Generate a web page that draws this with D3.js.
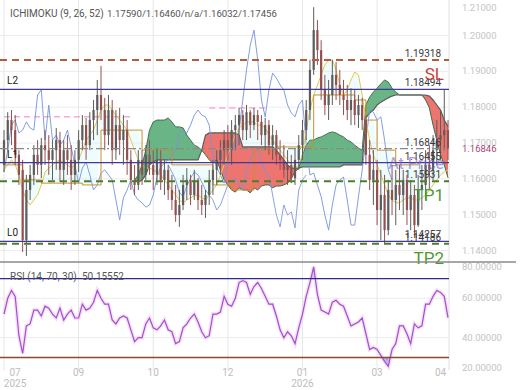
<!DOCTYPE html>
<html>
<head>
<meta charset="utf-8">
<script src="https://cdn.jsdelivr.net/npm/d3@7"></script>
<style>
  body { margin: 0; background: #fff; }
  svg { display: block; font-family: Roboto, "DejaVu Sans", sans-serif; }
</style>
</head>
<body>
<div id="chart"></div>
<script>
// ---- data (one entry per bar) ----
const opens = [
  1.1639,1.1708,1.1764,1.1736,1.1667,1.1625,1.1429,1.1569,1.1611,1.1667,
  1.1639,1.1694,1.1680,1.1653,1.1680,1.1708,1.1625,1.1680,1.1653,1.1611,
  1.1653,1.1708,1.1750,1.1694,1.1764,1.1792,1.1834,1.1792,1.1722,1.1792,
  1.1680,1.1750,1.1708,1.1736,1.1653,1.1597,1.1583,1.1653,1.1611,1.1667,
  1.1639,1.1611,1.1653,1.1597,1.1625,1.1569,1.1541,1.1499,1.1527,1.1583,
  1.1597,1.1555,1.1597,1.1541,1.1527,1.1555,1.1597,1.1625,1.1653,1.1680,
  1.1708,1.1680,1.1736,1.1750,1.1778,1.1736,1.1786,1.1750,1.1778,1.1759,
  1.1722,1.1750,1.1694,1.1722,1.1667,1.1653,1.1625,1.1639,1.1602,1.1653,
  1.1694,1.1736,1.1792,1.1904,1.2015,1.1959,1.1848,1.1806,1.1834,1.1890,
  1.1862,1.1834,1.1820,1.1792,1.1820,1.1778,1.1806,1.1764,1.1667,1.1597,
  1.1625,1.1513,1.1555,1.1457,1.1569,1.1541,1.1583,1.1555,1.1597,1.1513,
  1.1555,1.1471,1.1569,1.1583,1.1639,1.1625,1.1680,1.1708,1.1722,1.1736
];
const highs = [
  1.1736,1.1786,1.1792,1.1778,1.1680,1.1653,1.1611,1.1639,1.1694,1.1708,
  1.1714,1.1736,1.1722,1.1708,1.1742,1.1731,1.1708,1.1722,1.1694,1.1680,
  1.1736,1.1778,1.1770,1.1786,1.1820,1.1876,1.1915,1.1826,1.1834,1.1820,
  1.1792,1.1798,1.1778,1.1764,1.1680,1.1639,1.1680,1.1680,1.1694,1.1708,
  1.1680,1.1686,1.1680,1.1653,1.1639,1.1611,1.1583,1.1569,1.1611,1.1630,
  1.1611,1.1625,1.1602,1.1583,1.1569,1.1625,1.1653,1.1680,1.1708,1.1736,
  1.1750,1.1764,1.1778,1.1798,1.1792,1.1806,1.1792,1.1798,1.1792,1.1778,
  1.1770,1.1764,1.1750,1.1736,1.1708,1.1694,1.1680,1.1667,1.1686,1.1722,
  1.1764,1.1820,1.1932,1.2079,1.2043,1.1987,1.1890,1.1876,1.1932,1.1926,
  1.1904,1.1876,1.1862,1.1853,1.1848,1.1834,1.1826,1.1778,1.1708,1.1680,
  1.1653,1.1625,1.1611,1.1597,1.1639,1.1625,1.1639,1.1625,1.1611,1.1597,
  1.1583,1.1611,1.1639,1.1680,1.1694,1.1722,1.1764,1.1792,1.1848,1.1764
];
const lows = [
  1.1619,1.1680,1.1694,1.1639,1.1583,1.1396,1.1385,1.1541,1.1583,1.1611,
  1.1602,1.1639,1.1611,1.1597,1.1625,1.1591,1.1583,1.1611,1.1569,1.1583,
  1.1619,1.1680,1.1653,1.1680,1.1708,1.1722,1.1764,1.1680,1.1694,1.1639,
  1.1653,1.1667,1.1639,1.1611,1.1569,1.1555,1.1569,1.1583,1.1597,1.1611,
  1.1569,1.1583,1.1569,1.1555,1.1541,1.1513,1.1480,1.1466,1.1513,1.1541,
  1.1527,1.1541,1.1513,1.1499,1.1491,1.1527,1.1555,1.1583,1.1611,1.1639,
  1.1653,1.1639,1.1680,1.1694,1.1708,1.1708,1.1714,1.1736,1.1708,1.1694,
  1.1680,1.1667,1.1653,1.1639,1.1625,1.1602,1.1583,1.1588,1.1583,1.1625,
  1.1653,1.1708,1.1764,1.1890,1.1918,1.1820,1.1778,1.1764,1.1806,1.1820,
  1.1806,1.1778,1.1764,1.1750,1.1750,1.1742,1.1736,1.1639,1.1569,1.1527,
  1.1471,1.1429,1.1421,1.1443,1.1499,1.1471,1.1513,1.1499,1.1471,1.1457,
  1.1435,1.1466,1.1513,1.1541,1.1569,1.1597,1.1639,1.1653,1.1680,1.1653
];
const closes = [
  1.1708,1.1764,1.1736,1.1667,1.1611,1.1429,1.1569,1.1611,1.1667,1.1639,
  1.1694,1.1680,1.1653,1.1680,1.1708,1.1625,1.1680,1.1653,1.1611,1.1653,
  1.1708,1.1750,1.1694,1.1764,1.1792,1.1834,1.1792,1.1722,1.1792,1.1680,
  1.1750,1.1708,1.1736,1.1653,1.1597,1.1583,1.1653,1.1611,1.1667,1.1639,
  1.1611,1.1653,1.1597,1.1625,1.1569,1.1541,1.1499,1.1527,1.1583,1.1597,
  1.1555,1.1597,1.1541,1.1527,1.1555,1.1597,1.1625,1.1653,1.1680,1.1708,
  1.1680,1.1736,1.1750,1.1778,1.1736,1.1786,1.1750,1.1778,1.1759,1.1722,
  1.1750,1.1694,1.1722,1.1667,1.1653,1.1625,1.1639,1.1602,1.1653,1.1694,
  1.1736,1.1792,1.1904,1.2015,1.1959,1.1848,1.1806,1.1834,1.1890,1.1862,
  1.1834,1.1820,1.1792,1.1820,1.1778,1.1806,1.1764,1.1667,1.1597,1.1625,
  1.1513,1.1555,1.1457,1.1569,1.1541,1.1583,1.1555,1.1597,1.1513,1.1555,
  1.1471,1.1569,1.1583,1.1639,1.1625,1.1680,1.1708,1.1722,1.1736,1.16846
];

const tenkan = [
  1.1625,1.1639,1.1653,1.1639,1.1611,1.1569,1.1541,1.1527,1.1541,1.1555,
  1.1583,1.1619,1.1630,1.1639,1.1647,1.1653,1.1644,1.1639,1.1630,1.1639,
  1.1653,1.1680,1.1708,1.1722,1.1736,1.1764,1.1792,1.1806,1.1806,1.1792,
  1.1778,1.1764,1.1750,1.1736,1.1708,1.1680,1.1653,1.1639,1.1630,1.1630,
  1.1625,1.1619,1.1611,1.1597,1.1583,1.1569,1.1555,1.1541,1.1533,1.1541,
  1.1547,1.1552,1.1555,1.1547,1.1541,1.1555,1.1569,1.1583,1.1611,1.1639,
  1.1667,1.1694,1.1722,1.1742,1.1750,1.1759,1.1759,1.1759,1.1750,1.1750,
  1.1742,1.1722,1.1708,1.1694,1.1680,1.1667,1.1653,1.1639,1.1630,1.1639,
  1.1667,1.1736,1.1792,1.1834,1.1862,1.1890,1.1918,1.1932,1.1932,1.1904,
  1.1862,1.1834,1.1848,1.1876,1.1898,1.1890,1.1834,1.1764,1.1708,1.1667,
  1.1639,1.1611,1.1583,1.1555,1.1541,1.1533,1.1533,1.1541,1.1547,1.1547,
  1.1541,1.1541,1.1547,1.1555,1.1569,1.1583,1.1597,1.1611,1.1619,1.1625
];
const kijun = [
  1.1639,1.1639,1.1639,1.1639,1.1639,1.1597,1.1597,1.1597,1.1597,1.1597,
  1.1588,1.1588,1.1588,1.1588,1.1588,1.1588,1.1588,1.1588,1.1588,1.1588,
  1.1588,1.1583,1.1583,1.1583,1.1583,1.1583,1.1736,1.1736,1.1736,1.1736,
  1.1736,1.1736,1.1736,1.1736,1.1736,1.1736,1.1736,1.1680,1.1680,1.1680,
  1.1680,1.1680,1.1680,1.1680,1.1680,1.1639,1.1639,1.1639,1.1639,1.1639,
  1.1639,1.1639,1.1639,1.1639,1.1639,1.1639,1.1583,1.1583,1.1583,1.1583,
  1.1583,1.1569,1.1569,1.1569,1.1569,1.1569,1.1569,1.1680,1.1680,1.1680,
  1.1680,1.1680,1.1680,1.1689,1.1689,1.1689,1.1689,1.1689,1.1689,1.1689,
  1.1689,1.1689,1.1689,1.1834,1.1834,1.1834,1.1834,1.1834,1.1834,1.1834,
  1.1834,1.1834,1.1834,1.1834,1.1820,1.1820,1.1820,1.1764,1.1764,1.1764,
  1.1680,1.1680,1.1680,1.1680,1.1680,1.1639,1.1639,1.1639,1.1639,1.1639,
  1.1639,1.1646,1.1646,1.1646,1.1646,1.1646,1.1646,1.1646,1.1646,1.1646
];

// cloud starts at bar 35
const cloudStart = 35;
const spanA = [
  1.1597,1.1611,1.1639,1.1680,1.1736,
  1.1759,1.1764,1.1764,1.1764,1.1770,1.1759,1.1745,1.1745,1.1742,1.1722,
  1.1708,1.1694,1.1689,1.1680,1.1667,1.1653,1.1644,1.1653,1.1625,1.1597,
  1.1583,1.1569,1.1563,1.1575,1.1569,1.1569,1.1561,1.1575,1.1569,1.1580,
  1.1583,1.1583,1.1575,1.1580,1.1580,1.1583,1.1588,1.1602,1.1619,1.1630,
  1.1667,1.1694,1.1708,1.1708,1.1714,1.1717,1.1722,1.1728,1.1731,1.1728,
  1.1722,1.1717,1.1708,1.1703,1.1694,1.1686,1.1680,1.1806,1.1828,1.1842,
  1.1853,1.1865,1.1876,1.1870,1.1853,1.1842,1.1834,1.1834,1.1834,1.1834,
  1.1834,1.1834,1.1834,1.1820,1.1798,1.1750,1.1708,1.1667,1.1639,1.16032
];
const spanB = [
  1.1597,1.1591,1.1597,1.1611,1.1639,
  1.1647,1.1653,1.1653,1.1653,1.1653,1.1653,1.1653,1.1653,1.1653,1.1653,
  1.1653,1.1653,1.1653,1.1680,1.1722,1.1728,1.1728,1.1728,1.1728,1.1728,
  1.1728,1.1728,1.1728,1.1722,1.1689,1.1689,1.1689,1.1689,1.1689,1.1689,
  1.1689,1.1689,1.1689,1.1680,1.1667,1.1653,1.1639,1.1630,1.1630,1.1630,
  1.1633,1.1633,1.1633,1.1633,1.1633,1.1633,1.1633,1.1633,1.1633,1.1633,
  1.1633,1.1639,1.1639,1.1639,1.1639,1.1639,1.1639,1.1770,1.1784,1.1792,
  1.1806,1.1814,1.1820,1.1826,1.1831,1.1834,1.1834,1.1834,1.1834,1.1834,
  1.1834,1.1834,1.1834,1.1834,1.1831,1.1820,1.1806,1.1792,1.1764,1.17456
];

// blue lagging line, starts at bar 0
const chikou = [
  1.1619,1.1680,1.1750,1.1764,1.1728,1.1736,1.1759,1.1742,1.1736,1.1834,
  1.1848,1.1708,1.1806,1.1708,1.1722,1.1694,1.1708,1.1736,1.1689,1.1639,
  1.1588,1.1630,1.1647,1.1611,1.1569,1.1583,1.1616,1.1625,1.1611,1.1597,
  1.1541,1.1485,1.1547,1.1569,1.1597,1.1555,1.1541,1.1533,1.1521,1.1527,
  1.1555,1.1605,1.1633,1.1644,1.1653,1.1667,1.1680,1.1728,1.1736,1.1728,
  1.1750,1.1778,1.1792,1.1778,1.1773,1.1750,1.1667,1.1633,1.1611,1.1588,
  1.1653,1.1708,1.1680,1.1736,1.1820,1.1904,1.1973,1.2015,1.1932,1.1820,
  1.1773,1.1848,1.1895,1.1881,1.1862,1.1848,1.1806,1.1784,1.1773,1.1806,
  1.1820,1.1694,1.1611,1.1616,1.1583,1.1550,1.1499,1.1457,1.1527,1.1583,
  1.1597,1.1605,1.1541,1.1471,1.1471,1.1550,1.1625,1.1708,1.1792,1.1786,
  1.1764,1.1773,1.1708,1.1625,1.1597
];
// second blue line, starts at bar 44
const lowerBlueStart = 44;
const lowerBlue = [
  1.1639,1.1619,1.1597,1.1563,1.1550,1.1580,1.1602,1.1619,1.1611,1.1591,
  1.1569,1.1555,1.1541,1.1513,1.1527,1.1555,1.1583,1.1597,1.1602,1.1583,
  1.1569,1.1625,1.1653,1.1680,1.1680,1.1644,1.1619,1.1611,1.1555,1.1499,
  1.1466,1.1527,1.1499,1.1508,1.1463,1.1569,1.1597,1.1611
];

const rsi = [
  52,60,64,61,41,32,46,47,54,54,
  51,56,55,52,50,55,49,52,54,50,
  50,57,54,55,58,64,60,57,57,49,
  47,50,51,50,44,38,40,40,47,50,
  45,44,46,49,44,43,37,38,45,47,
  50,52,48,43,40,41,52,52,53,61,
  57,56,60,68,69,68,62,66,68,65,
  61,57,57,51,44,40,43,41,37,45,
  52,61,68,76,62,54,53,52,58,59,
  57,56,51,46,47,48,50,42,34,35,
  34,31,28,25.5,34,37,46,46,42,37,
  47,45,46,57,57,61,64,63,61,50.15552
];

// horizontal trade levels
const levelNames  = ["SL", "L2", "At Price", "L1", "TP1", "L0", "TP2"];
const levelPrices = [1.19318, 1.18494, 1.16846, 1.16455, 1.15931, 1.14257, 1.14186];
// faint pink dashed segments
const pinkPrices = [1.1773, 1.1798];
const pinkFrom = [0, 55];
const pinkTo = [34, 70];

const priceTicks = [1.14, 1.15, 1.16, 1.17, 1.18, 1.19, 1.20, 1.21];
const rsiTicks = [20, 40, 60, 80];
const dateTicks = [0, 20, 40, 60, 80, 100, 117];
const dateLabels = ["07", "09", "10", "12", "01", "03", "04"];
const yearLabels = ["2025", "", "", "", "2026", "", ""];

// ---- layout ----
const W = 520, H = 390;
const plotRight = 449;
const mainBottom = 262;
const fmt5 = d3.format(".5f");

const svg = d3.select("#chart").append("svg")
  .attr("width", W).attr("height", H);

const x = d3.scaleLinear().domain([0, 119]).range([4, 448]);
const yP = d3.scaleLinear().domain([1.1368, 1.2099]).range([mainBottom, 0]);
const yR = d3.scaleLinear().domain([20, 80]).range([377.1, 258.9]);

const defs = svg.append("defs");
defs.append("clipPath").attr("id", "mainClip").append("rect")
  .attr("x", 0).attr("y", 0).attr("width", plotRight).attr("height", mainBottom);
defs.append("clipPath").attr("id", "rsiClip").append("rect")
  .attr("x", 0).attr("y", 263).attr("width", plotRight).attr("height", 109);

// gridlines
const grid = svg.append("g");
grid.selectAll(".hg").data(priceTicks.slice(0, -1)).join("line")
  .attr("x1", 0).attr("x2", plotRight)
  .attr("y1", d => yP(d)).attr("y2", d => yP(d))
  .attr("stroke", "#ececec");
grid.selectAll(".rg").data([40, 60]).join("line")
  .attr("class", "rg")
  .attr("x1", 0).attr("x2", plotRight)
  .attr("y1", d => yR(d)).attr("y2", d => yR(d))
  .attr("stroke", "#ececec");
grid.selectAll(".vg").data(dateTicks.slice(0, -1)).join("line")
  .attr("class", "vg")
  .attr("x1", d => x(d)).attr("x2", d => x(d))
  .attr("y1", 0).attr("y2", 370)
  .attr("stroke", "#e6e6e6");
grid.append("line")
  .attr("x1", plotRight).attr("x2", plotRight).attr("y1", 0).attr("y2", 370)
  .attr("stroke", "#e0e0e0");

const main = svg.append("g").attr("clip-path", "url(#mainClip)");

// light fill between tenkan and kijun
main.append("path")
  .datum(d3.range(tenkan.length))
  .attr("d", d3.area().x(i => x(i)).y0(i => yP(tenkan[i])).y1(i => yP(kijun[i])))
  .attr("fill", "#c6f3f7").attr("opacity", 0.28);

// ichimoku cloud
const cloud = spanA.map((a, k) => ({ i: k + cloudStart, a: a, b: spanB[k] }));
defs.append("clipPath").attr("id", "clipGreen").append("path")
  .attr("d", d3.area().x(d => x(d.i)).y0(mainBottom).y1(d => yP(d.a))(cloud));
defs.append("clipPath").attr("id", "clipRed").append("path")
  .attr("d", d3.area().x(d => x(d.i)).y0(mainBottom).y1(d => yP(d.b))(cloud));
const between = d3.area().x(d => x(d.i)).y0(d => yP(d.b)).y1(d => yP(d.a));
main.append("path").datum(cloud).attr("d", between)
  .attr("clip-path", "url(#clipGreen)").attr("fill", "#5aad78").attr("opacity", 0.9);
main.append("path").datum(cloud).attr("d", between)
  .attr("clip-path", "url(#clipRed)").attr("fill", "#ec655f").attr("opacity", 0.9);
main.append("path").datum(cloud)
  .attr("d", d3.line().x(d => x(d.i)).y(d => yP(d.a)))
  .attr("fill", "none").attr("stroke", "#3f6e4c").attr("stroke-width", 1);
main.append("path").datum(cloud)
  .attr("d", d3.line().x(d => x(d.i)).y(d => yP(d.b)))
  .attr("fill", "none").attr("stroke", "#5a5a5a").attr("stroke-width", 1.2);

// pink dashed segments
main.selectAll(".pink").data(pinkPrices).join("line")
  .attr("x1", (d, k) => x(pinkFrom[k])).attr("x2", (d, k) => x(pinkTo[k]))
  .attr("y1", d => yP(d)).attr("y2", d => yP(d))
  .attr("stroke", "#f7a9da").attr("stroke-width", 1.5).attr("stroke-dasharray", "6,4");

// blue lines
const blueLine = d3.line().x(d => x(d.i)).y(d => yP(d.v));
main.append("path")
  .datum(chikou.map((v, i) => ({ i, v })))
  .attr("d", blueLine)
  .attr("fill", "none").attr("stroke", "#7593dc").attr("stroke-width", 1).attr("opacity", 0.9);
main.append("path")
  .datum(lowerBlue.map((v, k) => ({ i: k + lowerBlueStart, v })))
  .attr("d", blueLine)
  .attr("fill", "none").attr("stroke", "#7593dc").attr("stroke-width", 1).attr("opacity", 0.85);

// tenkan / kijun
main.append("path").datum(d3.range(tenkan.length))
  .attr("d", d3.line().x(i => x(i)).y(i => yP(tenkan[i])))
  .attr("fill", "none").attr("stroke", "#e2c94c").attr("stroke-width", 1);
main.append("path").datum(d3.range(kijun.length))
  .attr("d", d3.line().x(i => x(i)).y(i => yP(kijun[i])).curve(d3.curveStepAfter))
  .attr("fill", "none").attr("stroke", "#c98f2e").attr("stroke-width", 1);

// candles
const candles = d3.range(closes.length).map(i => ({ i, o: opens[i], h: highs[i], l: lows[i], c: closes[i] }));
const cg = main.append("g").selectAll("g").data(candles).join("g");
const candleColor = d => d.c >= d.o ? "#5c5c5c" : "#94504f";
cg.append("line")
  .attr("x1", d => x(d.i)).attr("x2", d => x(d.i))
  .attr("y1", d => yP(d.h)).attr("y2", d => yP(d.l))
  .attr("stroke", candleColor).attr("stroke-width", 1);
cg.append("rect")
  .attr("x", d => x(d.i) - 1.1).attr("width", 2.2)
  .attr("y", d => yP(Math.max(d.o, d.c)))
  .attr("height", d => Math.max(1, Math.abs(yP(d.o) - yP(d.c))))
  .attr("fill", candleColor);

// trade levels
const levelStyle = {
  "SL":       { stroke: "#b85a3c", width: 2,   dash: "7,5" },
  "L2":       { stroke: "#41389a", width: 1.3, dash: null },
  "At Price": { stroke: "#8a8a8a", width: 1.2, dash: "8,3,2,3" },
  "L1":       { stroke: "#41389a", width: 1.3, dash: null },
  "TP1":      { stroke: "#4e7d28", width: 2,   dash: "7,5" },
  "L0":       { stroke: "#41389a", width: 1.3, dash: null },
  "TP2":      { stroke: "#4e7d28", width: 2,   dash: "7,5" }
};
const levels = svg.append("g");
levels.selectAll("line").data(levelPrices).join("line")
  .attr("x1", 0).attr("x2", plotRight)
  .attr("y1", d => yP(d)).attr("y2", d => yP(d))
  .attr("stroke", (d, k) => levelStyle[levelNames[k]].stroke)
  .attr("stroke-width", (d, k) => levelStyle[levelNames[k]].width)
  .attr("stroke-dasharray", (d, k) => levelStyle[levelNames[k]].dash);

// price text over each level
levels.selectAll(".lv").data(levelPrices).join("text")
  .attr("x", 441).attr("y", d => yP(d) - 3)
  .attr("text-anchor", "end")
  .attr("font-size", 10).attr("fill", "#3a3a3a")
  .text(d => fmt5(d));

// level names
const bigNames = { "SL": "#c9403a", "TP1": "#4f9a2c", "TP2": "#4f9a2c", "At Price": "#7c5cc4" };
levelNames.forEach((name, k) => {
  const yy = yP(levelPrices[k]);
  if (name === "L2" || name === "L1" || name === "L0") {
    levels.append("text").attr("x", 7).attr("y", yy - 5)
      .attr("font-size", 10).attr("fill", "#222").text(name);
  } else {
    levels.append("text").attr("x", 444).attr("y", yy + 20)
      .attr("text-anchor", "end")
      .attr("font-size", name === "At Price" ? 16 : 17)
      .attr("fill", bigNames[name])
      .attr("opacity", name === "At Price" ? 0.6 : 1)
      .text(name);
  }
});

// header
svg.append("text").attr("x", 10).attr("y", 17)
  .attr("font-size", 10).attr("fill", "#555").text("ICHIMOKU (9, 26, 52)");
svg.append("text").attr("x", 107).attr("y", 17)
  .attr("font-size", 9.6).attr("fill", "#555").text("1.17590/1.16460/n/a/1.16032/1.17456");

// price axis
const pAxis = svg.append("g").attr("transform", "translate(460,0)")
  .call(d3.axisRight(yP).tickValues(priceTicks).tickSize(0).tickPadding(2).tickFormat(fmt5));
pAxis.select(".domain").remove();
pAxis.selectAll(".tick").attr("transform", d => `translate(0,${Math.max(8, yP(d))})`);
pAxis.selectAll("text").attr("fill", "#c4c4c4").attr("font-size", 9.5)
  .attr("font-family", "Roboto, sans-serif");

// current price tag
const lastClose = closes[closes.length - 1];
svg.append("text").attr("x", 462).attr("y", yP(lastClose)).attr("dy", "0.34em")
  .attr("font-size", 9.5).attr("fill", "#a8467a").text(fmt5(lastClose));

// panel separator
svg.append("line").attr("x1", 0).attr("x2", 516)
  .attr("y1", mainBottom).attr("y2", mainBottom)
  .attr("stroke", "#8a8a8a").attr("stroke-width", 1.5);

// ---- RSI panel ----
const rsiG = svg.append("g").attr("clip-path", "url(#rsiClip)");
const rsiPts = rsi.map((v, i) => ({ i, v }));
defs.append("clipPath").attr("id", "above70").append("rect")
  .attr("x", 0).attr("y", 0).attr("width", plotRight).attr("height", yR(70));
defs.append("clipPath").attr("id", "below30").append("rect")
  .attr("x", 0).attr("y", yR(30)).attr("width", plotRight).attr("height", 60);
rsiG.append("path").datum(rsiPts)
  .attr("d", d3.area().x(d => x(d.i)).y0(yR(70)).y1(d => yR(d.v)))
  .attr("clip-path", "url(#above70)").attr("fill", "#9aa2f2").attr("opacity", 0.7);
rsiG.append("path").datum(rsiPts)
  .attr("d", d3.area().x(d => x(d.i)).y0(yR(30)).y1(d => yR(d.v)))
  .attr("clip-path", "url(#below30)").attr("fill", "#7c8ce6").attr("opacity", 0.8);

const rsiLine = d3.line().x(d => x(d.i)).y(d => yR(d.v));
rsiG.append("path").datum(rsiPts).attr("d", rsiLine)
  .attr("fill", "none").attr("stroke", "#f6c8f0").attr("stroke-width", 4).attr("opacity", 0.6);
rsiG.append("path").datum(rsiPts).attr("d", rsiLine)
  .attr("fill", "none").attr("stroke", "#9b52cf").attr("stroke-width", 1.2);

svg.append("line").attr("x1", 0).attr("x2", plotRight)
  .attr("y1", yR(70)).attr("y2", yR(70))
  .attr("stroke", "#2f2b8c").attr("stroke-width", 1.2);
svg.append("line").attr("x1", 0).attr("x2", plotRight)
  .attr("y1", yR(30)).attr("y2", yR(30))
  .attr("stroke", "#8b4a2b").attr("stroke-width", 1.5);

svg.append("text").attr("x", 10).attr("y", 280)
  .attr("font-size", 10).attr("fill", "#555").text("RSI (14, 70, 30)");
svg.append("text").attr("x", 82).attr("y", 280)
  .attr("font-size", 10).attr("fill", "#555").text(fmt5(rsi[rsi.length - 1]));

const rAxis = svg.append("g").attr("transform", "translate(460,0)")
  .call(d3.axisRight(yR).tickValues(rsiTicks).tickSize(0).tickPadding(2).tickFormat(fmt5));
rAxis.select(".domain").remove();
rAxis.selectAll(".tick").attr("transform", d => `translate(0,${Math.min(368, Math.max(267, yR(d)))})`);
rAxis.selectAll("text").attr("fill", "#c4c4c4").attr("font-size", 9.5)
  .attr("font-family", "Roboto, sans-serif");

// date axis
const dAxis = svg.append("g").attr("transform", "translate(0,369)")
  .call(d3.axisBottom(x).tickValues(dateTicks).tickSize(0).tickPadding(0)
    .tickFormat((d, k) => dateLabels[k]));
const yearAxis = svg.append("g").attr("transform", "translate(0,380)")
  .call(d3.axisBottom(x).tickValues(dateTicks).tickSize(0).tickPadding(0)
    .tickFormat((d, k) => yearLabels[k]));
[dAxis, yearAxis].forEach(g => {
  g.select(".domain").remove();
  g.selectAll(".tick").attr("transform", d => `translate(${Math.max(15, x(d))},0)`);
  g.selectAll("text").attr("fill", "#bdbdbd").attr("font-size", 10)
    .attr("font-family", "Roboto, sans-serif");
});
</script>
</body>
</html>
